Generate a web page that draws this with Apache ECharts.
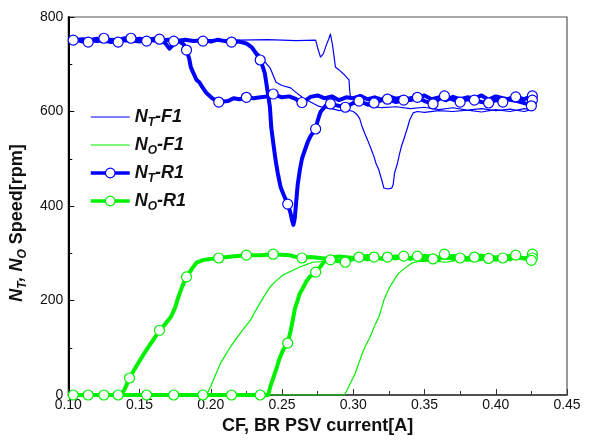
<!DOCTYPE html>
<html>
<head>
<meta charset="utf-8">
<script src="https://cdn.jsdelivr.net/npm/echarts@6/dist/echarts.min.js"></script>
<style>
  html, body { margin: 0; padding: 0; background: #fff; }
  #main { width: 590px; height: 440px; }
</style>
</head>
<body>
<div id="main"></div>
<script>
// tick labels of the two axes
var xTicks = [0.10, 0.15, 0.20, 0.25, 0.30, 0.35, 0.40, 0.45];
var yTicks = [0, 200, 400, 600, 800];
var seriesNames = ['NT-F1', 'NO-F1', 'NT-R1', 'NO-R1'];

// NT-F1 : thin blue trace, up sweep then down sweep
var ntF1 = [
  [0.100,750],[0.120,752],[0.140,749],[0.160,751],[0.180,750],[0.200,752],[0.220,751],[0.240,752],[0.260,750],
  [0.2736,751],[0.275,735],[0.277,715],[0.279,722],[0.281,740],[0.283,755],[0.284,764],[0.2855,740],[0.2875,694],
  [0.290,688],[0.293,680],[0.297,667],[0.2975,645],[0.298,631],[0.302,626],[0.306,620],[0.310,612],[0.320,608],
  [0.330,610],[0.340,606],[0.350,609],[0.360,604],[0.370,608],[0.380,603],[0.390,606],[0.400,602],[0.410,605],
  [0.420,600],[0.425,604],
  [0.420,606],[0.410,600],[0.400,604],[0.390,599],[0.380,603],[0.370,600],[0.360,602],[0.350,598],[0.345,600],
  [0.342,597],[0.3396,582],[0.338,565],[0.336,546],[0.334,528],[0.3326,512],[0.331,490],[0.329,470],[0.328,445],
  [0.327,438],[0.324,436],[0.3215,438],[0.320,455],[0.318,476],[0.316,490],[0.3146,504],[0.312,525],[0.310,540],
  [0.308,554],[0.306,570],[0.3045,585],[0.3028,593],[0.300,600],[0.295,604],[0.290,602],[0.285,606],[0.280,608],
  [0.275,612],[0.270,620],[0.2646,629],[0.260,640],[0.256,650],[0.250,655],[0.2458,662],[0.2417,692],[0.238,705],
  [0.235,718],[0.230,732],[0.226,742],[0.222,748],[0.210,750],[0.180,751],[0.150,749],[0.120,750],[0.100,751]
];

// NO-F1 : thin green trace
var noF1 = [
  [0.100,0],[0.150,0],[0.200,0],[0.250,0],[0.2938,0],[0.296,12],[0.2985,28],[0.3014,46],[0.304,68],[0.306,85],
  [0.3083,102],[0.311,118],[0.313,131],[0.3155,150],[0.318,165],[0.320,185],[0.3215,201],[0.3235,215],[0.3257,229],
  [0.328,240],[0.330,250],[0.332,258],[0.336,268],[0.341,279],[0.345,282],[0.355,284],[0.365,281],[0.375,286],
  [0.385,283],[0.395,287],[0.405,284],[0.415,288],[0.425,285],
  [0.415,290],[0.405,287],[0.395,291],[0.385,286],[0.375,290],[0.365,287],[0.355,291],[0.345,288],[0.335,290],
  [0.325,286],[0.315,289],[0.305,285],[0.295,288],[0.285,284],[0.2715,281],[0.267,276],[0.2625,271],[0.257,263],
  [0.2507,254],[0.246,242],[0.2417,229],[0.238,212],[0.2347,195],[0.231,176],[0.228,159],[0.223,140],[0.218,120],
  [0.213,98],[0.207,68],[0.203,40],[0.200,18],[0.197,0],[0.150,0],[0.100,0]
];

// NT-R1 : thick blue trace
var ntR1 = [
  [0.100,750],[0.105,752],[0.110,748],[0.115,751],[0.120,754],[0.125,750],[0.130,747],[0.135,752],[0.140,755],
  [0.145,750],[0.150,748],[0.155,752],[0.160,754],[0.165,749],[0.168,745],[0.171,733],[0.174,742],[0.177,750],
  [0.182,752],[0.188,749],[0.195,751],[0.200,748],[0.205,752],[0.210,749],[0.215,747],[0.220,748],[0.225,744],
  [0.229,735],[0.232,722],[0.235,709],[0.238,680],[0.240,640],[0.2415,610],[0.2425,565],[0.244,530],[0.2455,497],
  [0.247,470],[0.249,440],[0.251,425],[0.254,404],[0.256,385],[0.257,370],[0.258,360],[0.259,375],[0.260,410],
  [0.261,445],[0.2625,476],[0.264,500],[0.266,518],[0.268,535],[0.270,548],[0.2736,563],[0.275,580],[0.277,599],
  [0.2806,612],[0.284,616],[0.290,612],[0.2944,609],[0.300,618],[0.304,622],[0.310,615],[0.3146,618],[0.320,624],
  [0.324,626],[0.330,620],[0.3354,624],[0.340,628],[0.345,630],[0.350,622],[0.356,616],[0.360,626],[0.364,633],
  [0.370,625],[0.375,620],[0.380,626],[0.385,624],[0.390,620],[0.395,618],[0.400,624],[0.405,620],[0.410,628],
  [0.414,631],[0.420,626],[0.4257,633],[0.4257,624],[0.425,612],
  [0.420,618],[0.415,622],[0.410,625],[0.405,628],[0.400,632],[0.395,625],[0.390,634],[0.385,628],[0.380,630],
  [0.375,626],[0.370,631],[0.365,624],[0.360,630],[0.355,626],[0.350,634],[0.345,628],[0.340,624],[0.335,630],
  [0.330,627],[0.325,632],[0.320,625],[0.315,630],[0.310,626],[0.305,633],[0.300,628],[0.295,630],[0.290,624],
  [0.285,632],[0.280,628],[0.275,634],[0.270,631],[0.265,620],[0.263,618],[0.260,626],[0.255,632],[0.250,630],
  [0.2438,637],[0.240,632],[0.235,630],[0.230,628],[0.225,630],[0.220,626],[0.216,628],[0.212,622],[0.2056,620],
  [0.201,628],[0.197,639],[0.194,652],[0.192,662],[0.190,667],[0.188,680],[0.186,694],[0.185,710],[0.1833,728],
  [0.181,742],[0.178,748],[0.170,752],[0.160,750],[0.150,754],[0.140,750],[0.130,752],[0.120,749],[0.110,753],
  [0.100,750]
];
var ntR1Marks = [
  [0.1035,751],[0.114,747],[0.125,755],[0.135,747],[0.144,755],[0.155,749],[0.164,753],[0.174,749],[0.183,730],
  [0.1945,749],[0.2146,747],[0.2347,709],[0.254,404],[0.2736,563],[0.284,616],[0.2944,609],[0.304,622],[0.3146,618],
  [0.324,626],[0.3354,624],[0.345,630],[0.356,616],[0.364,633],[0.375,620],[0.385,624],[0.395,618],[0.405,620],
  [0.414,631],[0.4257,633],[0.4257,624],[0.425,612],[0.264,619],[0.2438,637],[0.225,630],[0.2056,620]
];

// NO-R1 : thick green trace
var noR1 = [
  [0.100,0],[0.120,0],[0.140,0],[0.160,0],[0.180,0],[0.200,0],[0.220,0],[0.2403,0],[0.242,20],[0.2458,53],
  [0.248,75],[0.2507,95],[0.254,110],[0.256,135],[0.2576,159],[0.259,182],[0.261,201],[0.2625,215],[0.2646,226],
  [0.267,240],[0.2694,250],[0.2736,260],[0.277,272],[0.2806,286],[0.284,286],[0.290,283],[0.2944,281],[0.300,288],
  [0.304,292],[0.310,287],[0.3146,292],[0.320,288],[0.324,292],[0.330,289],[0.3354,294],[0.340,288],[0.345,292],
  [0.350,286],[0.356,290],[0.360,287],[0.364,296],[0.370,288],[0.375,291],[0.380,286],[0.385,292],[0.390,288],
  [0.395,291],[0.400,286],[0.405,290],[0.410,287],[0.414,294],[0.420,289],[0.425,292],
  [0.425,285],[0.420,290],[0.410,294],[0.400,291],[0.390,295],[0.380,290],[0.370,294],[0.360,291],[0.350,295],
  [0.340,290],[0.330,293],[0.320,289],[0.310,294],[0.300,290],[0.290,293],[0.280,289],[0.270,292],[0.263,290],
  [0.255,296],[0.2438,298],[0.235,296],[0.225,296],[0.215,293],[0.205,290],[0.200,288],[0.195,286],[0.190,280],
  [0.187,268],[0.183,250],[0.180,230],[0.177,205],[0.175,185],[0.172,165],[0.168,150],[0.164,137],[0.160,118],
  [0.1565,103],[0.1535,89],[0.150,72],[0.146,52],[0.143,36],[0.140,15],[0.1375,0],[0.120,0],[0.100,0]
];
var noR1Marks = [
  [0.1035,0],[0.114,0],[0.125,0],[0.135,0],[0.155,0],[0.174,0],[0.1945,0],[0.2146,0],[0.2347,0],[0.254,110],
  [0.2736,260],[0.284,286],[0.2944,281],[0.304,292],[0.3146,292],[0.324,292],[0.3354,294],[0.345,294],[0.356,288],
  [0.364,298],[0.375,290],[0.385,292],[0.395,289],[0.405,290],[0.414,296],[0.4257,298],[0.4257,290],[0.425,285],
  [0.264,290],[0.2438,298],[0.225,296],[0.2056,290],[0.183,250],[0.164,137],[0.143,36]
];

var BLUE = '#0000ff';
var GREEN = '#00f000';
var FONT = 'Liberation Sans, Arial, sans-serif';

var myChart = echarts.init(document.getElementById('main'), null, { renderer: 'canvas' });

function traceLine(name, data, color, width, marked) {
  return {
    name: name,
    type: 'line',
    data: data,
    symbol: marked ? 'circle' : 'none',
    showSymbol: false,
    symbolSize: 10,
    lineStyle: { color: color, width: width, join: 'round' },
    itemStyle: { color: '#fff', borderColor: color, borderWidth: 1.2 },
    z: 2
  };
}
function traceMarks(name, data, color) {
  return {
    name: name,
    type: 'scatter',
    data: data,
    symbol: 'circle',
    symbolSize: 10,
    itemStyle: { color: '#fff', borderColor: color, borderWidth: 1.2, opacity: 1 },
    z: 3
  };
}

// legend entries: F1 = plain thin line, R1 = thick line with a circle
var legendData = seriesNames.map(function (n) {
  var thin = n.indexOf('F1') > 0;
  return {
    name: n,
    itemStyle: thin ? { opacity: 0 } : { color: '#fff', borderWidth: 1.2 },
    lineStyle: { width: thin ? 1.2 : 3.5 }
  };
});

var option = {
  animation: false,
  backgroundColor: '#fff',
  textStyle: { fontFamily: FONT },
  grid: {
    left: 63, right: 23, top: 17, bottom: 45,
    show: true, borderColor: '#555', borderWidth: 1.2
  },
  legend: {
    data: legendData,
    orient: 'vertical',
    left: 84,
    top: 103,
    itemWidth: 39,
    itemHeight: 12,
    itemGap: 7,
    selectedMode: false,
    formatter: function (name) {
      return '{n|N}{s|' + name.charAt(1) + '}{n|' + name.slice(2) + '}';
    },
    textStyle: {
      rich: {
        n: { fontFamily: FONT, fontSize: 18, fontWeight: 'bold', fontStyle: 'italic', color: '#111', lineHeight: 24 },
        s: { fontFamily: FONT, fontSize: 12, fontWeight: 'bold', fontStyle: 'italic', color: '#111',
             lineHeight: 14, verticalAlign: 'bottom' }
      }
    }
  },
  xAxis: {
    type: 'value',
    min: 0.10, max: 0.45, interval: 0.05,
    name: 'CF, BR PSV current[A]',
    nameLocation: 'middle',
    nameGap: 22,
    nameTextStyle: { fontFamily: FONT, fontSize: 18, fontWeight: 'bold', color: '#111' },
    axisLine: { onZero: false, lineStyle: { color: '#333', width: 1.5 } },
    axisTick: { inside: true, length: 6, lineStyle: { color: '#333' } },
    minorTick: { show: true, splitNumber: 2, length: 4, lineStyle: { color: '#333' } },
    axisLabel: {
      margin: 3, fontSize: 14, color: '#111', fontFamily: FONT,
      formatter: function (v) { return v.toFixed(2); },
      customValues: xTicks
    },
    splitLine: { show: false }
  },
  yAxis: {
    type: 'value',
    min: 0, max: 800, interval: 200,
    name: '{n|N}{s|T}{n|, N}{s|O}{b| Speed[rpm]}',
    nameLocation: 'middle',
    nameGap: 21,
    nameRotate: 90,
    nameTextStyle: {
      padding: [0, 34, 0, 0],
      rich: {
        n: { fontFamily: FONT, fontSize: 18, fontWeight: 'bold', fontStyle: 'italic', color: '#111', lineHeight: 24 },
        s: { fontFamily: FONT, fontSize: 12, fontWeight: 'bold', fontStyle: 'italic', color: '#111',
             lineHeight: 14, verticalAlign: 'bottom' },
        b: { fontFamily: FONT, fontSize: 18, fontWeight: 'bold', color: '#111', lineHeight: 24 }
      }
    },
    axisLine: { lineStyle: { color: '#000', width: 2 } },
    axisTick: { inside: true, length: 6, lineStyle: { color: '#000' } },
    minorTick: { show: true, splitNumber: 2, length: 4, lineStyle: { color: '#000' } },
    axisLabel: {
      margin: 5, fontSize: 14, color: '#111', fontFamily: FONT,
      customValues: yTicks
    },
    splitLine: { show: false }
  },
  series: [
    traceLine('NT-F1', ntF1, BLUE, 1.2, false),
    traceLine('NO-F1', noF1, GREEN, 1.2, false),
    traceLine('NT-R1', ntR1, BLUE, 4, true),
    traceLine('NO-R1', noR1, GREEN, 4, true),
    traceMarks('NT-R1', ntR1Marks, BLUE),
    traceMarks('NO-R1', noR1Marks, GREEN)
  ]
};

myChart.setOption(option);
</script>
</body>
</html>
